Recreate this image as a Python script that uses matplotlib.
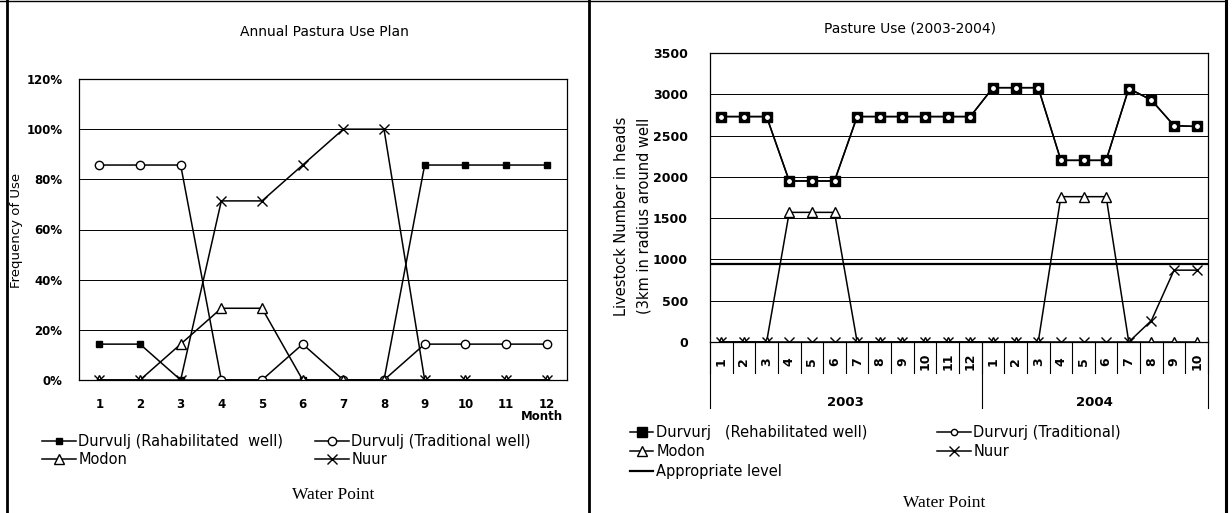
import matplotlib
matplotlib.use("Agg")
import matplotlib.pyplot as plt
import matplotlib.transforms as mtransforms
from matplotlib.lines import Line2D

# annual plan, share of use per month (%)
months = list(range(1, 13))
plan_rehab = [14.3, 14.3, 0, 0, 0, 0, 0, 0, 85.7, 85.7, 85.7, 85.7]
plan_trad = [85.7, 85.7, 85.7, 0, 0, 14.3, 0, 0, 14.3, 14.3, 14.3, 14.3]
plan_modon = [0, 0, 14.3, 28.6, 28.6, 0, 0, 0, 0, 0, 0, 0]
plan_nuur = [0, 0, 0, 71.4, 71.4, 85.7, 100, 100, 0, 0, 0, 0]

# pasture use 2003-2004, livestock heads within 3km of the well
use_months = [1, 2, 3, 4, 5, 6, 7, 8, 9, 10, 11, 12, 1, 2, 3, 4, 5, 6, 7, 8, 9, 10]
use_years = ["2003", "2004"]
use_rehab = [2730, 2730, 2730, 1950, 1950, 1950, 2730, 2730, 2730, 2730, 2730, 2730,
             3080, 3080, 3080, 2200, 2200, 2200, 3070, 2930, 2620, 2610]
use_trad = [2730, 2730, 2730, 1950, 1950, 1950, 2730, 2730, 2730, 2730, 2730, 2730,
            3080, 3080, 3080, 2200, 2200, 2200, 3070, 2930, 2620, 2610]
use_modon = [0, 0, 0, 1570, 1570, 1570, 0, 0, 0, 0, 0, 0,
             0, 0, 0, 1760, 1760, 1760, 0, 0, 0, 0]
use_nuur = [0, 0, 0, 0, 0, 0, 0, 0, 0, 0, 0, 0,
            0, 0, 0, 0, 0, 0, 0, 260, 870, 870]
appropriate_level = 950

W, H = 1232, 513
SANS = "DejaVu Sans"
SERIF = "Liberation Serif"

fig = plt.figure(figsize=(W / 100, H / 100), dpi=100)


def box(l, t, r, b):
    return [l / W, 1 - b / H, (r - l) / W, (b - t) / H]


def fx(x):
    return x / W


def fy(y):
    return 1 - y / H


def fline(x0, y0, x1, y1, lw=1.0):
    fig.add_artist(Line2D([fx(x0), fx(x1)], [fy(y0), fy(y1)],
                          transform=fig.transFigure, color="black", lw=lw))


def style_frame(ax):
    for s in ax.spines.values():
        s.set_color("black")
        s.set_linewidth(0.9)
    ax.grid(axis="y", color="black", lw=0.7)
    ax.set_axisbelow(True)


def bold_ticks(ax, size):
    for lab in ax.get_xticklabels() + ax.get_yticklabels():
        lab.set_fontfamily(SANS)
        lab.set_fontweight("bold")
        lab.set_fontsize(size)


line_kw = dict(color="black", lw=1.1)
sq = dict(marker="s", mfc="black", mec="black")
ci = dict(marker="o", mfc="white", mec="black", mew=1.0)
tr = dict(marker="^", mfc="white", mec="black", mew=1.0)
xx = dict(marker="x", mec="black", mew=1.0)

# ---------------- left: annual plan ----------------
ax1 = fig.add_axes(box(79, 79, 567, 380))
style_frame(ax1)
h1, = ax1.plot(months, plan_rehab, ms=5, label="Durvulj (Rahabilitated  well)", **sq, **line_kw)
h2, = ax1.plot(months, plan_trad, ms=6, label="Durvulj (Traditional well)", **ci, **line_kw)
h3, = ax1.plot(months, plan_modon, ms=7, label="Modon", **tr, **line_kw)
h4, = ax1.plot(months, plan_nuur, ms=7, label="Nuur", **xx, **line_kw)
ax1.set_xlim(0.5, 12.5)
ax1.set_ylim(0, 120)
ax1.set_yticks(range(0, 121, 20))
ax1.set_yticklabels([f"{v}%" for v in range(0, 121, 20)])
ax1.set_xticks(months)
ax1.tick_params(axis="x", length=0, pad=13)
ax1.tick_params(axis="y", length=0, pad=12)
bold_ticks(ax1, 8.5)

fig.text(fx(324), fy(32), "Annual Pastura Use Plan", ha="center", va="center",
         family=SANS, fontsize=10)
fig.text(fx(17), fy(230), "Frequency of Use", rotation=90, ha="center", va="center",
         family=SANS, fontsize=9.5)
fig.text(fx(563), fy(416), "Month", ha="right", va="center", family=SANS,
         fontsize=8.5, fontweight="bold")

leg_kw = dict(frameon=False, loc="upper left", prop={"family": SANS, "size": 10.5},
              handlelength=2.3, handletextpad=0.2, labelspacing=0.2, borderpad=0,
              borderaxespad=0)
fig.legend([h1, h3], [h1.get_label(), h3.get_label()],
           bbox_to_anchor=(fx(42), fy(434)), **leg_kw)
fig.legend([h2, h4], [h2.get_label(), h4.get_label()],
           bbox_to_anchor=(fx(315), fy(434)), **leg_kw)
fig.text(fx(333), fy(495), "Water Point", ha="center", va="center",
         family=SERIF, fontsize=12.5)

# ---------------- right: pasture use ----------------
ax2 = fig.add_axes(box(710, 53, 1208, 342))
style_frame(ax2)
pos = list(range(1, len(use_months) + 1))
g1, = ax2.plot(pos, use_rehab, ms=6.5, label="Durvurj   (Rehabilitated well)", **sq, **line_kw)
g2, = ax2.plot(pos, use_trad, ms=4.5, label="Durvurj (Traditional)", **ci, **line_kw)
g3, = ax2.plot(pos, use_modon, ms=7, label="Modon", **tr, **line_kw)
g4, = ax2.plot(pos, use_nuur, ms=7, label="Nuur", **xx, **line_kw)
g5 = ax2.axhline(appropriate_level, color="black", lw=1.6, label="Appropriate level")
ax2.set_xlim(0.5, len(pos) + 0.5)
ax2.set_ylim(0, 3500)
ax2.set_yticks(range(0, 3501, 500))
ax2.set_xticks(pos)
ax2.set_xticklabels([str(m) for m in use_months], rotation=90, va="center")
ax2.tick_params(axis="x", length=0, pad=14)
ax2.tick_params(axis="y", length=0, pad=16)
bold_ticks(ax2, 9)

# two-level category axis: month cells and year groups
trans = mtransforms.blended_transform_factory(ax2.transData, ax2.transAxes)
cell = 31 / 289
group = 66 / 289
for k in range(len(pos) + 1):
    x = k + 0.5
    ax2.plot([x, x], [0, -cell], transform=trans, clip_on=False, color="black", lw=0.8)
n_first = use_months.index(12) + 1
for x in (0.5, n_first + 0.5, len(pos) + 0.5):
    ax2.plot([x, x], [0, -group], transform=trans, clip_on=False, color="black", lw=0.8)
for year, (a, b) in zip(use_years, [(0.5, n_first + 0.5), (n_first + 0.5, len(pos) + 0.5)]):
    ax2.text((a + b) / 2, -60 / 289, year, transform=trans, ha="center", va="center",
             family=SANS, fontsize=9.5, fontweight="bold")

fig.text(fx(910), fy(28), "Pasture Use (2003-2004)", ha="center", va="center",
         family=SANS, fontsize=10)
fig.text(fx(621), fy(216), "Livestock Number in heads", rotation=90, ha="center",
         va="center", family=SANS, fontsize=10.5)
fig.text(fx(644), fy(216), "(3km in radius around well", rotation=90, ha="center",
         va="center", family=SANS, fontsize=10.5)

leg_kw2 = dict(leg_kw, handlelength=1.6, labelspacing=0.3)
fig.legend([g1, g3, g5], [g1.get_label(), g3.get_label(), g5.get_label()],
           bbox_to_anchor=(fx(630), fy(425)), **leg_kw2)
fig.legend([g2, g4], [g2.get_label(), g4.get_label()],
           bbox_to_anchor=(fx(937), fy(425)), **dict(leg_kw2, handlelength=2.3))
fig.text(fx(944), fy(503), "Water Point", ha="center", va="center",
         family=SERIF, fontsize=12.5)

# panel frames
fline(0, 1, 1226, 1, lw=1.0)
fline(7, 0, 7, 513, lw=2.0)
fline(589, 0, 589, 513, lw=2.0)
fline(1226, 0, 1226, 513, lw=2.2)

fig.savefig("out.png", dpi=100, facecolor="white")
